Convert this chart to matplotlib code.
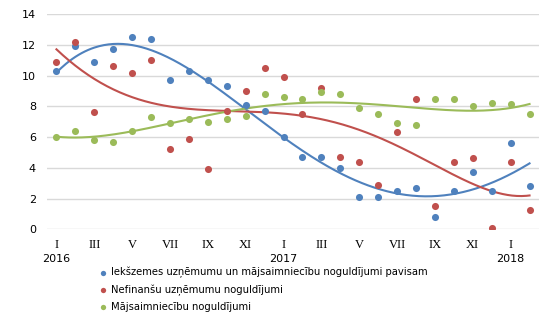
import numpy as np
import matplotlib
matplotlib.use("Agg")
import matplotlib.pyplot as plt

# monthly values, I 2016 .. II 2018
months = ["I", "II", "III", "IV", "V", "VI", "VII", "VIII", "IX", "X", "XI", "XII"] * 2 + ["I", "II"]
years = {0: "2016", 12: "2017", 24: "2018"}

total = [10.29, 11.92, 10.87, 11.72, 12.50, 12.37, 9.70, 10.29, 9.70, 9.31, 8.10, 7.68,
         5.99, 4.69, 4.69, 3.97, 2.08, 2.08, 2.47, 2.67, 0.78, 2.47, 3.71, 2.47, 5.60, 2.80]
nonfin = [10.87, 12.18, 7.62, 10.61, 10.16, 11.00, 5.21, 5.86, 3.91, 7.68, 8.99, 10.48,
          9.90, 7.49, 9.18, 4.69, 4.36, 2.87, 6.32, 8.47, 1.50, 4.36, 4.62, 0.07, 4.36, 1.24]
house = [5.99, 6.38, 5.80, 5.67, 6.38, 7.29, 6.90, 7.16, 6.97, 7.16, 7.36, 8.79,
         8.60, 8.47, 8.92, 8.79, 7.88, 7.49, 6.90, 6.77, 8.47, 8.47, 8.01, 8.20, 8.14, 7.53]

labels = ["Iekšzemes uzņēmumu un mājsaimniecību noguldījumi pavisam",
          "Nefinanšu uzņēmumu noguldījumi",
          "Mājsaimniecību noguldījumi"]
colors = ["#4F81BD", "#C0504D", "#9BBB59"]
degrees = [4, 5, 4]   # polynomial trend lines

x = np.arange(len(total))
xs = np.linspace(0, len(total) - 1, 300)

fig = plt.figure(figsize=(5.54, 3.23), dpi=100)
ax = fig.add_axes([47 / 554, 1 - 229.3 / 323, 492 / 554, 215 / 323])

handles = []
for ser, col, lab, deg in zip([total, nonfin, house], colors, labels, degrees):
    h = ax.scatter(x, ser, s=26, color=col, zorder=3, label=lab, linewidths=0)
    handles.append(h)
    p = np.polyfit(x, ser, deg)
    ax.plot(xs, np.polyval(p, xs), color=col, lw=1.5, zorder=2)

ax.set_xlim(-0.5, len(total) - 0.5)
ax.set_ylim(0, 14)
ax.set_yticks(range(0, 15, 2))
ax.grid(axis="y", color="#d9d9d9", lw=1)
ax.set_axisbelow(True)
for s in ax.spines.values():
    s.set_visible(False)

ax.set_xticks(x[::2])
ax.set_xticklabels(months[::2], family="Liberation Serif", fontsize=9)
ax.tick_params(axis="x", length=0, pad=7)
ax.tick_params(axis="y", length=0, pad=8, labelsize=8)
for lab in ax.get_yticklabels():
    lab.set_family("DejaVu Sans")

for i, yr in years.items():
    ax.text(i, -0.137, yr, transform=ax.get_xaxis_transform(), ha="center", va="center",
            fontsize=8, family="DejaVu Sans")

fig.legend(handles=handles, labels=labels, loc="upper left", bbox_to_anchor=(98 / 554, 1 - 267 / 323),
           frameon=False, prop={"family": "DejaVu Sans", "size": 7.2}, handletextpad=0.3,
           labelspacing=0.6, markerscale=0.75, borderpad=0, borderaxespad=0, handlelength=1)

fig.savefig("out.png", dpi=100)
